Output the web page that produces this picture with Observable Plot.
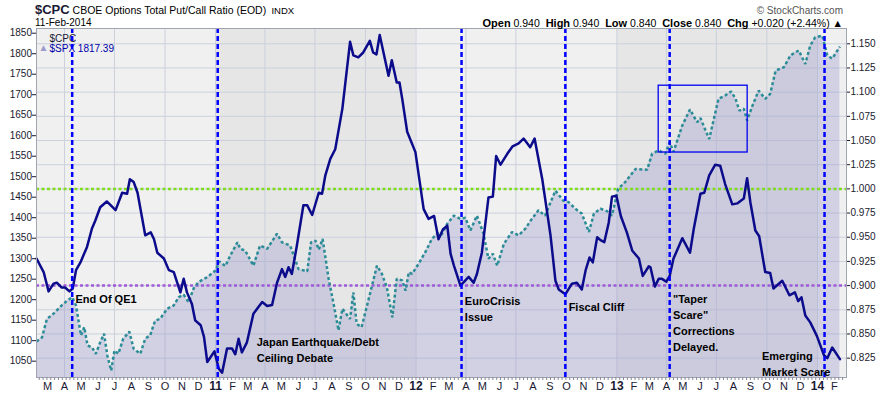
<!DOCTYPE html>
<html><head><meta charset="utf-8">
<script src="https://cdn.jsdelivr.net/npm/d3@7"></script>
<script src="https://cdn.jsdelivr.net/npm/@observablehq/plot@0.6"></script>
<style>
body{margin:0;background:#fff;font-family:"Liberation Sans",Arial,sans-serif;}
#wrap{position:relative;width:882px;height:398px;overflow:hidden;}
#head{position:relative;height:28px;}
#head > span{position:absolute;white-space:pre;line-height:1;}
#chart svg{display:block;}
</style></head><body>
<div id="wrap">
<div id="head">
<span style="left:35px;top:3px;font-size:13px;line-height:13px;color:#000"><b style="font-size:13px;color:#1a1a33">$CPC</b><span style="font-size:10.5px"> CBOE Options Total Put/Call Ratio (EOD)</span><span style="font-size:9.5px">  INDX</span></span>
<span style="left:35px;top:18px;font-size:10px;color:#000">11-Feb-2014</span>
<span style="right:39px;top:6px;font-size:10px;color:#555">© StockCharts.com</span>
<span id="ohlc" style="right:39px;top:17.5px;font-size:10.5px;color:#000"></span>
</div>
<div id="chart"></div>
</div>
<script>
// ---- data ----
const cpcDates = ["2010-02-09","2010-02-22","2010-03-03","2010-03-12","2010-03-18","2010-03-27","2010-04-02","2010-04-10","2010-04-16","2010-04-22","2010-04-30","2010-05-12","2010-05-21","2010-05-27","2010-06-05","2010-06-17","2010-07-03","2010-07-15","2010-07-24","2010-07-29","2010-08-05","2010-08-12","2010-08-26","2010-09-05","2010-09-11","2010-09-17","2010-09-29","2010-10-08","2010-10-17","2010-10-29","2010-11-04","2010-11-10","2010-11-19","2010-11-25","2010-12-05","2010-12-11","2010-12-17","2010-12-30","2011-01-07","2011-01-13","2011-01-22","2011-01-31","2011-02-06","2011-02-12","2011-02-18","2011-02-27","2011-03-11","2011-03-27","2011-04-05","2011-04-14","2011-04-23","2011-05-02","2011-05-08","2011-05-14","2011-05-20","2011-05-29","2011-06-10","2011-06-17","2011-06-26","2011-07-08","2011-07-14","2011-07-20","2011-07-29","2011-08-07","2011-08-20","2011-09-03","2011-09-09","2011-09-18","2011-09-27","2011-10-09","2011-10-15","2011-10-21","2011-10-27","2011-11-12","2011-11-18","2011-11-27","2011-12-02","2011-12-07","2011-12-16","2011-12-31","2012-01-15","2012-01-24","2012-02-03","2012-02-11","2012-02-19","2012-02-27","2012-03-04","2012-03-10","2012-03-22","2012-04-06","2012-04-15","2012-04-21","2012-04-30","2012-05-12","2012-05-20","2012-05-26","2012-06-03","2012-06-15","2012-06-25","2012-07-06","2012-07-15","2012-07-27","2012-08-04","2012-08-18","2012-09-02","2012-09-11","2012-09-17","2012-09-29","2012-10-11","2012-10-20","2012-10-29","2012-11-05","2012-11-12","2012-11-18","2012-11-26","2012-12-02","2012-12-09","2012-12-17","2012-12-23","2012-12-31","2013-01-08","2013-01-19","2013-01-29","2013-02-10","2013-02-17","2013-02-28","2013-03-03","2013-03-11","2013-03-18","2013-03-24","2013-04-01","2013-04-07","2013-04-14","2013-04-30","2013-05-14","2013-05-21","2013-06-02","2013-06-09","2013-06-18","2013-06-29","2013-07-08","2013-07-17","2013-07-30","2013-08-08","2013-08-20","2013-08-26","2013-09-01","2013-09-10","2013-09-17","2013-09-28","2013-10-07","2013-10-13","2013-10-29","2013-11-11","2013-11-21","2013-11-27","2013-12-03","2013-12-10","2013-12-19","2013-12-31","2014-01-13","2014-01-19","2014-01-28","2014-02-11"];
const cpcValues = [0.928,0.914,0.894,0.902,0.903,0.898,0.898,0.894,0.897,0.916,0.924,0.940,0.959,0.967,0.981,0.987,0.978,0.996,0.995,1.010,1.007,0.996,0.952,0.955,0.948,0.934,0.928,0.916,0.914,0.893,0.907,0.893,0.881,0.864,0.859,0.847,0.821,0.832,0.814,0.810,0.835,0.835,0.829,0.845,0.831,0.841,0.871,0.883,0.879,0.880,0.903,0.917,0.909,0.919,0.912,0.941,0.983,0.983,0.973,0.996,0.995,1.014,1.031,1.041,1.083,1.152,1.138,1.136,1.141,1.153,1.141,1.139,1.159,1.117,1.133,1.110,1.110,1.093,1.059,1.038,0.979,0.969,0.972,0.948,0.958,0.962,0.933,0.921,0.900,0.909,0.903,0.912,0.934,0.991,0.992,1.034,1.025,1.036,1.044,1.047,1.052,1.043,1.052,1.010,0.952,0.905,0.896,0.891,0.902,0.903,0.896,0.916,0.929,0.924,0.950,0.947,0.945,0.965,0.992,0.993,0.972,0.955,0.936,0.928,0.910,0.920,0.919,0.899,0.907,0.907,0.904,0.910,0.928,0.949,0.934,0.959,0.995,0.996,1.014,1.025,1.024,1.005,0.984,0.985,0.990,1.011,0.986,0.957,0.951,0.914,0.913,0.897,0.905,0.890,0.893,0.884,0.888,0.869,0.862,0.848,0.828,0.825,0.836,0.824];

const spxDates = ["2010-02-09","2010-02-19","2010-02-28","2010-03-12","2010-03-27","2010-04-06","2010-04-15","2010-04-22","2010-04-27","2010-05-01","2010-05-07","2010-05-13","2010-05-21","2010-05-28","2010-06-05","2010-06-12","2010-06-18","2010-06-25","2010-07-01","2010-07-08","2010-07-17","2010-07-28","2010-08-05","2010-08-17","2010-08-26","2010-09-04","2010-09-13","2010-09-22","2010-10-05","2010-10-17","2010-10-26","2010-11-04","2010-11-13","2010-11-22","2010-12-01","2010-12-17","2011-01-01","2011-01-08","2011-01-19","2011-01-28","2011-02-10","2011-02-15","2011-02-24","2011-03-11","2011-03-23","2011-04-05","2011-04-23","2011-05-02","2011-05-17","2011-06-01","2011-06-17","2011-06-24","2011-07-02","2011-07-08","2011-07-15","2011-07-26","2011-08-04","2011-08-13","2011-08-20","2011-09-03","2011-09-09","2011-09-15","2011-09-24","2011-10-07","2011-10-22","2011-10-31","2011-11-09","2011-11-19","2011-11-27","2011-12-07","2011-12-13","2011-12-19","2011-12-25","2012-01-06","2012-01-18","2012-01-30","2012-02-11","2012-02-14","2012-02-27","2012-03-10","2012-03-22","2012-03-31","2012-04-09","2012-04-21","2012-05-03","2012-05-12","2012-05-20","2012-05-28","2012-06-09","2012-06-24","2012-07-06","2012-07-18","2012-07-30","2012-08-11","2012-08-23","2012-09-11","2012-09-25","2012-10-05","2012-10-17","2012-10-29","2012-11-11","2012-11-20","2012-12-02","2012-12-14","2012-12-23","2013-01-03","2013-01-16","2013-02-04","2013-02-25","2013-03-06","2013-03-18","2013-03-30","2013-04-07","2013-04-14","2013-04-30","2013-05-14","2013-05-27","2013-06-02","2013-06-18","2013-07-05","2013-07-17","2013-07-28","2013-08-05","2013-08-12","2013-08-20","2013-08-26","2013-09-05","2013-09-16","2013-09-28","2013-10-07","2013-10-17","2013-11-01","2013-11-13","2013-11-28","2013-12-10","2013-12-19","2013-12-28","2014-01-10","2014-01-19","2014-01-28","2014-02-11"];
const spxValues = [1098,1108,1153,1166,1186,1198,1206,1186,1145,1113,1133,1088,1084,1068,1096,1117,1064,1027,1076,1068,1105,1122,1080,1068,1105,1113,1149,1153,1178,1186,1206,1212,1194,1227,1243,1255,1271,1293,1282,1308,1340,1324,1320,1283,1332,1324,1361,1340,1332,1275,1269,1340,1344,1322,1348,1251,1190,1125,1178,1153,1218,1141,1133,1202,1283,1263,1230,1157,1251,1247,1222,1267,1263,1288,1316,1348,1365,1352,1385,1405,1397,1400,1369,1405,1361,1300,1312,1283,1336,1365,1357,1373,1397,1418,1405,1466,1442,1438,1422,1410,1365,1410,1422,1416,1405,1470,1487,1519,1517,1556,1564,1556,1584,1561,1625,1664,1633,1643,1592,1690,1698,1708,1690,1661,1666,1637,1674,1710,1690,1702,1759,1767,1796,1808,1775,1820,1840,1844,1796,1788,1817.39];

const eventDates = ["2010-04-15","2011-01-05","2012-03-24","2012-09-29","2013-04-07","2014-01-14"];
const noteDates  = ["2010-04-21","2011-03-17","2012-03-30","2012-10-05","2013-04-13","2013-09-22"];
const noteValues = [1205,1081,1181,1186,1146,1046];
const noteTexts  = ["End Of QE1","Japan Earthquake/Debt\nCeiling Debate","EuroCrisis\nIssue","Fiscal Cliff","\"Taper\nScare\"\nCorrections\nDelayed.","Emerging\nMarket Scare"];
const boxDates = ["2013-03-18","2013-08-27"];
const boxValues = [1559,1722];
const levelValues = [1.000, 0.900];
const levelColors = ["#7fdc1e","#a05ad8"];
const spxTicks = [1050,1100,1150,1200,1250,1300,1350,1400,1450,1500,1550,1600,1650,1700,1750,1800,1850];
const cpcTicks = [0.825,0.850,0.875,0.900,0.925,0.950,0.975,1.000,1.025,1.050,1.075,1.100,1.125,1.150];
const yearStarts = ["2011-01-01","2012-01-01","2013-01-01","2014-01-01"];
const monthLetters = ["J","F","M","A","M","J","J","A","S","O","N","D"];
const ohlcLabels = ["Open","High","Low","Close","Chg"];
const ohlcValues = ["0.940","0.940","0.840","0.840","+0.020 (+2.44%) \u25B2"];

// ---- header row ----
document.getElementById("ohlc").innerHTML = ohlcLabels.map((l,i)=>`<b style="font-size:11px">${l}</b> ${ohlcValues[i]}`).join("  ");

// ---- build ----
const P = s => new Date(s + "T00:00:00Z");
const xDomain = [P("2010-02-09"), P("2014-02-23")];
const yDomain = [1010.2, 1861.5];
const cpcToY = d3.scaleLinear().domain([0.805, 1.1658]).range(yDomain);

const cpc = cpcDates.map((d,i)=>({date:P(d), y:cpcToY(cpcValues[i])}));
const spx = spxDates.map((d,i)=>({date:P(d), v:spxValues[i]}));
const bounds = [xDomain[0], ...yearStarts.map(P), xDomain[1]];
const bands = bounds.slice(0,-1).map((d,i)=>({x1:d, x2:bounds[i+1], fill: i%2 ? "#e6e6e6" : "#f0f0f0"}));
const quarters = d3.utcMonth.every(3).range(xDomain[0], xDomain[1]);
const months = d3.utcMonth.range(xDomain[0], xDomain[1]);
const weeks = d3.utcWeek.range(xDomain[0], xDomain[1]);
const notes = noteDates.map((d,i)=>({date:P(d), v:noteValues[i], text:noteTexts[i]}));
const cpcTickY = cpcTicks.map(c=>cpcToY(c));
const font = "'Liberation Sans', Arial, sans-serif";

const chart = Plot.plot({
  width: 882, height: 370,
  marginTop: 0, marginBottom: 21, marginLeft: 36, marginRight: 36,
  x: {type: "utc", domain: xDomain, label: null},
  y: {domain: yDomain, label: null},
  style: {fontFamily: font, fontSize: "10px", color: "#1a1a2e", background: "transparent", overflow: "visible"},
  marks: [
    Plot.rect(bands, {x1: "x1", x2: "x2", fill: "fill"}),
    Plot.ruleX(quarters, {stroke: "#cbd0dc", strokeWidth: 1}),
    Plot.ruleY(cpcTickY, {stroke: "#cbd0dc", strokeWidth: 1}),
    Plot.areaY(spx, {x: "date", y1: yDomain[0], y2: "v", fill: "#9a9acc", fillOpacity: 0.36}),
    Plot.ruleY(levelValues.map((c,i)=>({y:cpcToY(c), c:levelColors[i]})), {y: "y", stroke: "c", strokeWidth: 2.5, strokeDasharray: "3,2.5", strokeLinecap: "butt"}),
    Plot.line(spx, {x: "date", y: "v", stroke: "#2b8c96", strokeWidth: 2.5, strokeDasharray: "3,2.5", strokeLinecap: "butt", strokeLinejoin: "miter"}),
    Plot.line(cpc, {x: "date", y: "y", stroke: "#0b0b8c", strokeWidth: 2.5, strokeLinejoin: "round"}),
    Plot.rect([{x1:P(boxDates[0]), x2:P(boxDates[1]), y1:boxValues[0], y2:boxValues[1]}], {x1:"x1", x2:"x2", y1:"y1", y2:"y2", fill: "none", stroke: "#0000ee", strokeWidth: 1.3}),
    Plot.text(["$CPC"], {frameAnchor: "top-left", dx: 13, dy: 6.5, textAnchor: "start", fill: "#1a1a33", fontSize: 10}),
    Plot.text(["$SPX 1817.39"], {frameAnchor: "top-left", dx: 13, dy: 16, textAnchor: "start", fill: "#0000aa", fontSize: 10}),
    Plot.text(["\u25B2"], {frameAnchor: "top-left", dx: 7, dy: 15.5, textAnchor: "middle", fill: "#9a9acc", fontSize: 10}),
    Plot.ruleX(eventDates.map(P), {stroke: "#0000ff", strokeWidth: 2.5, strokeDasharray: "5,3", strokeLinecap: "butt"}),
    Plot.text(notes, {x: "date", y: "v", text: "text", textAnchor: "start", lineAnchor: "middle", lineHeight: 1.45, fontWeight: "bold", fontSize: 11, fill: "#000"}),
    Plot.frame({stroke: "#a0a4b0"}),
    Plot.axisY({ticks: spxTicks, tickSize: 4, tickPadding: 0.5, tickFormat: d => String(d), anchor: "left", fontSize: 10, color: "#1a1a2e"}),
    Plot.axisY({ticks: cpcTickY, tickSize: 3, tickPadding: 1, anchor: "right", tickFormat: (d,i) => cpcTicks[i].toFixed(3), fontSize: 10, color: "#1a1a2e"}),
    Plot.axisX({ticks: weeks, tickSize: 3, tickFormat: () => "", stroke: "#8a8a99"}),
    Plot.axisX({ticks: months.filter(d=>d.getUTCMonth()!==0), tickSize: 0, tickPadding: 5, tickFormat: d => monthLetters[d.getUTCMonth()], fontSize: 11, color: "#1a1a33"}),
    Plot.axisX({ticks: months.filter(d=>d.getUTCMonth()===0), tickSize: 0, tickPadding: 4, tickFormat: d => String(d.getUTCFullYear()).slice(2), fontSize: 12, fontWeight: "bold", color: "#1a1a33"})
  ]
});
document.getElementById("chart").appendChild(chart);
</script>
</body></html>
